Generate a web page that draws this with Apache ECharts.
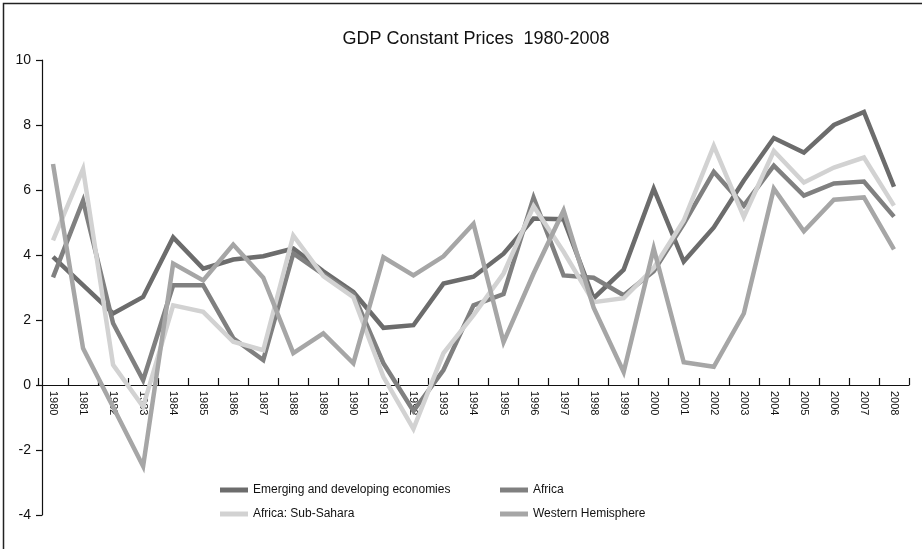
<!DOCTYPE html>
<html>
<head>
<meta charset="utf-8">
<script src="https://cdn.jsdelivr.net/npm/echarts@6/dist/echarts.min.js"></script>
<style>
html,body{margin:0;padding:0;background:#fff;}
#chart{width:922px;height:549px;}
</style>
</head>
<body>
<div id="chart"></div>
<script>
const years = ['1980','1981','1982','1983','1984','1985','1986','1987','1988','1989','1990','1991','1992','1993','1994','1995','1996','1997','1998','1999','2000','2001','2002','2003','2004','2005','2006','2007','2008'];
const emerging = [3.94,3.07,2.2,2.71,4.54,3.58,3.86,3.96,4.2,3.5,2.86,1.76,1.84,3.12,3.33,4.04,5.12,5.1,2.67,3.55,6.04,3.8,4.85,6.29,7.6,7.15,8.0,8.4,6.1];
const africa = [3.31,5.67,1.9,0.15,3.07,3.07,1.44,0.77,4.05,3.4,2.8,0.67,-0.8,0.46,2.45,2.8,5.77,3.37,3.3,2.76,3.5,4.96,6.56,5.52,6.75,5.83,6.2,6.26,5.18];
const subSahara = [4.45,6.65,0.62,-0.67,2.45,2.25,1.33,1.07,4.6,3.35,2.7,0.25,-1.35,0.98,2.15,3.43,5.5,4.1,2.55,2.67,3.6,5.06,7.36,5.17,7.2,6.23,6.69,7.0,5.52];
const western = [6.8,1.13,-0.68,-2.5,3.74,3.22,4.32,3.3,0.98,1.59,0.67,3.93,3.37,3.96,4.96,1.32,3.43,5.37,2.38,0.4,4.2,0.7,0.56,2.2,6.04,4.73,5.7,5.77,4.17];
const seriesNames = ['Emerging and developing economies','Africa','Africa: Sub-Sahara','Western Hemisphere'];
const seriesColors = ['#6c6c6c','#808080','#d2d2d2','#a6a6a6'];
const seriesData = [emerging, africa, subSahara, western];
const yMin = -4, yMax = 10;

const gridTop = 60, gridBottom = 34, chartH = 549;
const plotH = chartH - gridTop - gridBottom;
// lift the category axis from the bottom of the grid to the zero line
const zeroOffset = -plotH * (0 - yMin) / (yMax - yMin);

const chart = echarts.init(document.getElementById('chart'));
const font = 'Liberation Sans, Arial, Helvetica, sans-serif';
chart.setOption({
  animation: false,
  backgroundColor: '#fff',
  title: {
    text: 'GDP Constant Prices  1980-2008',
    left: 471, top: 25, textAlign: 'center',
    textStyle: {fontFamily: font, fontSize: 18, fontWeight: 'normal', color: '#111'}
  },
  graphic: [{
    type: 'polyline',
    shape: {points: [[3.5, 549], [3.5, 3.5], [922, 3.5]]},
    style: {stroke: '#222', lineWidth: 1.5, fill: null}
  }],
  legend: [{
    data: [seriesNames[0], seriesNames[2]],
    orient: 'vertical', left: 215, top: 479, itemGap: 12,
    icon: 'rect', itemWidth: 28, itemHeight: 5,
    textStyle: {fontFamily: font, fontSize: 12, color: '#111'}
  }, {
    data: [seriesNames[1], seriesNames[3]],
    orient: 'vertical', left: 495, top: 479, itemGap: 12,
    icon: 'rect', itemWidth: 28, itemHeight: 5,
    textStyle: {fontFamily: font, fontSize: 12, color: '#111'}
  }],
  grid: {left: 38, right: 13, top: gridTop, bottom: gridBottom, containLabel: false},
  xAxis: {
    type: 'category', data: years, boundaryGap: true,
    offset: zeroOffset,
    axisLine: {onZero: false, lineStyle: {color: '#111', width: 1.2}},
    axisTick: {show: true, inside: true, length: 7, lineStyle: {color: '#111', width: 1.2}},
    axisLabel: {rotate: -90, fontFamily: font, fontSize: 11, color: '#111', margin: 6, interval: 0}
  },
  yAxis: {
    type: 'value', min: yMin, max: yMax, interval: 2, offset: -4,
    axisLine: {show: true, lineStyle: {color: '#111', width: 1.2}},
    axisTick: {show: true, inside: false, length: 6, lineStyle: {color: '#111', width: 1.2}},
    splitLine: {show: false},
    axisLabel: {fontFamily: font, fontSize: 14, color: '#111', margin: 11}
  },
  series: seriesNames.map((n, i) => ({
    name: n, type: 'line', data: seriesData[i],
    symbol: 'none', smooth: false,
    color: seriesColors[i],
    lineStyle: {width: 4.5, color: seriesColors[i], join: 'miter'}
  }))
});
</script>
</body>
</html>
